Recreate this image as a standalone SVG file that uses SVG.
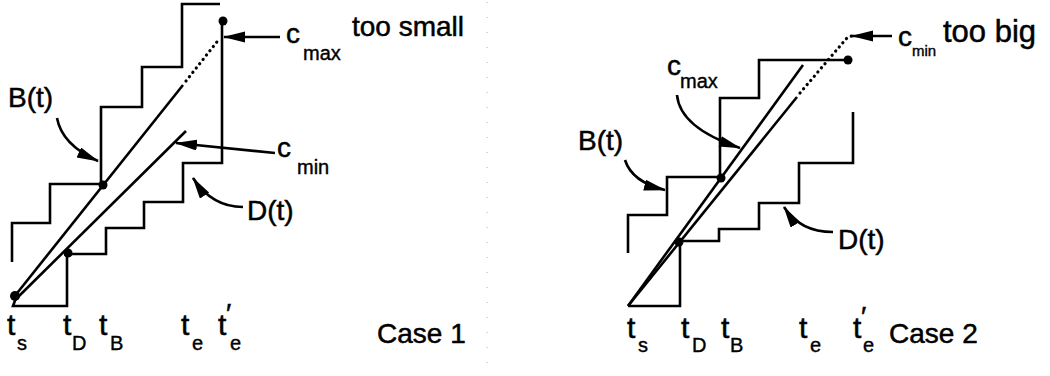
<svg xmlns="http://www.w3.org/2000/svg" width="1050" height="376" viewBox="0 0 1050 376">
<defs>
<style>
.ln{fill:none;stroke:#000;stroke-width:2.6;stroke-linejoin:miter}
.dot{fill:none;stroke:#000;stroke-width:3.2;stroke-linecap:round;stroke-dasharray:0.1 5.4}
.arr{fill:none;stroke:#000;stroke-width:2.6;marker-end:url(#ah)}
.pt{fill:#000}
.lb{font-family:"Liberation Sans",Arial,sans-serif;font-size:28px;fill:#000;stroke:#000;stroke-width:0.5}
.sb{font-family:"Liberation Sans",Arial,sans-serif;font-size:20px;fill:#000;stroke:#000;stroke-width:0.4}
.tt{font-family:"Liberation Sans",Arial,sans-serif;font-size:30px;fill:#000;stroke:#000;stroke-width:0.5}
.pr{font-family:"Liberation Sans","DejaVu Sans",sans-serif;font-size:28px;fill:#000;stroke:#000;stroke-width:0.5}
</style>
<marker id="ah" markerUnits="userSpaceOnUse" markerWidth="24" markerHeight="12" refX="21" refY="5.5" orient="auto">
<path d="M0,0 L22,5.5 L0,11 z" fill="#000"/>
</marker>
</defs>
<rect width="1050" height="376" fill="#fff"/>
<line x1="487" y1="2" x2="487" y2="370" stroke="#bbb" stroke-width="1.2" stroke-dasharray="1 14"/>

<g id="case1">
<g id="B1"><path class="ln" d="M12,262 V223 H50 V184 H101 V107 H142 V67 H182 V4 H220"/></g>
<g id="D1"><path class="ln" d="M222,21 V163 H183 V202 H144 V228 H106 V254 H67 V306 H13 L16,298"/></g>
<g id="cmax1"><path class="ln" d="M14,297 L183,85"/><path class="dot" d="M186,81 L220,38"/></g>
<g id="cmin1"><path class="ln" d="M17,298 L186,131"/></g>
<g id="pts1">
<circle class="pt" cx="15" cy="296" r="5"/>
<circle class="pt" cx="68" cy="253" r="4.5"/>
<circle class="pt" cx="103" cy="185" r="4.5"/>
<circle class="pt" cx="223" cy="21" r="4.5"/>
</g>
<g id="connectors1">
<path class="arr" d="M57,118 Q62,145 98,161"/>
<path class="arr" d="M280,37 L224,37"/>
<path class="arr" d="M275,153 L176,143"/>
<path class="arr" d="M243,207 Q212,207 193,178"/>
</g>
<g id="labels1">
<text class="lb" x="8" y="107">B(t)</text>
<text class="lb" x="286" y="43">c</text><text class="sb" x="303" y="60">max</text>
<text class="lb" x="352" y="36">too small</text>
<text class="lb" x="277" y="157">c</text><text class="sb" x="297" y="174">min</text>
<text class="lb" x="247" y="220">D(t)</text>
<text class="lb" x="377" y="343">Case 1</text>
<text class="tt" x="7" y="335">t</text><text class="sb" x="17" y="350">s</text>
<text class="tt" x="63" y="335">t</text><text class="sb" x="72" y="350">D</text>
<text class="tt" x="99" y="335">t</text><text class="sb" x="110" y="350">B</text>
<text class="tt" x="181" y="335">t</text><text class="sb" x="192" y="350">e</text>
<text class="tt" x="218" y="335">t</text><text class="sb" x="230" y="350">e</text>
<text class="pr" x="226" y="323">′</text>
</g>
</g>

<g id="case2">
<g id="B2"><path class="ln" d="M628,253 V215 H667 V177 H720 V98 H759 V60 H848"/></g>
<g id="D2"><path class="ln" d="M853,112 V163 H799 V203 H759 V229 H719 V241 H680 V306 H628"/></g>
<g id="cmax2"><path class="ln" d="M628,306 L803,65"/></g>
<g id="cmin2"><path class="ln" d="M628,306 L797,97"/><path class="dot" d="M800,93 L846,39 Q849,36 853,36"/></g>
<g id="pts2">
<circle class="pt" cx="679" cy="242" r="4.5"/>
<circle class="pt" cx="721" cy="178" r="4.5"/>
<circle class="pt" cx="848" cy="60" r="4.5"/>
</g>
<g id="connectors2">
<path class="arr" d="M677,95 Q680,128 740,148"/>
<path class="arr" d="M625,160 Q632,182 665,190"/>
<path class="arr" d="M833,232 Q800,232 784,207"/>
<path class="arr" d="M892,36 L852,36"/>
</g>
<g id="labels2">
<text class="lb" x="578" y="150">B(t)</text>
<text class="lb" x="667" y="75">c</text><text class="sb" x="680" y="88">max</text>
<text class="lb" x="898" y="46">c</text><text class="sb" x="912" y="56" style="font-size:15px">min</text>
<text class="lb" x="943" y="42" style="font-size:31px">too big</text>
<text class="lb" x="838" y="249">D(t)</text>
<text class="lb" x="889" y="343">Case 2</text>
<text class="tt" x="627" y="338">t</text><text class="sb" x="638" y="352">s</text>
<text class="tt" x="681" y="338">t</text><text class="sb" x="692" y="352">D</text>
<text class="tt" x="721" y="338">t</text><text class="sb" x="730" y="352">B</text>
<text class="tt" x="799" y="338">t</text><text class="sb" x="810" y="352">e</text>
<text class="tt" x="853" y="338">t</text><text class="sb" x="863" y="352">e</text>
<text class="pr" x="861" y="326">′</text>
</g>
</g>
</svg>
